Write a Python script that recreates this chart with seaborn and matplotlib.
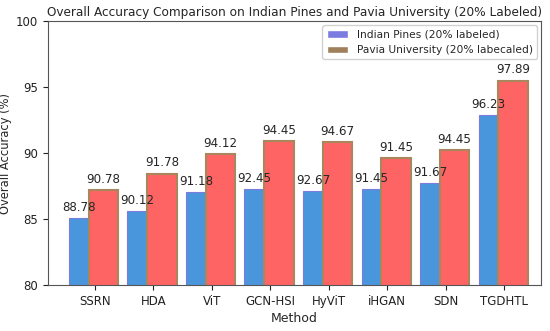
import pandas as pd
import numpy as np
import matplotlib

matplotlib.use("Agg")
import matplotlib.pyplot as plt
import seaborn as sns
from matplotlib.patches import Patch

sns.set_theme(style="ticks")
plt.rcParams["font.family"] = ["DejaVu Sans"]

# data
methods = ["SSRN", "HDA", "ViT", "GCN-HSI", "HyViT", "iHGAN", "SDN", "TGDHTL"]
# bar heights as drawn
indian_bar = [85.1, 85.6, 87.05, 87.25, 87.1, 87.25, 87.7, 92.85]
pavia_bar = [87.2, 88.45, 89.9, 90.9, 90.85, 89.6, 90.25, 95.5]
# numbers printed above the bars
indian_text = [88.78, 90.12, 91.18, 92.45, 92.67, 91.45, 91.67, 96.23]
pavia_text = [90.78, 91.78, 94.12, 94.45, 94.67, 91.45, 94.45, 97.89]
series = ["Indian Pines (20% labeled)", "Pavia University (20% labecaled)"]

df = pd.DataFrame(
    {
        "Method": methods * 2,
        "acc": indian_bar + pavia_bar,
        "label": indian_text + pavia_text,
        "dataset": [series[0]] * len(methods) + [series[1]] * len(methods),
    }
)

fig, ax = plt.subplots(figsize=(5.5, 3.31), dpi=100)
fig.subplots_adjust(left=0.087, right=0.984, bottom=0.139, top=0.936)

sns.barplot(
    data=df,
    x="Method",
    y="acc",
    hue="dataset",
    palette=["#4A96DD", "#FF6464"],
    saturation=1,
    width=0.84,
    legend=False,
    ax=ax,
)

# blue bars narrower on the left, red wider on the right
n = len(methods)
for i, p in enumerate(ax.patches[: 2 * n]):
    xi = i % n
    if i < n:
        p.set_x(xi - 0.44)
        p.set_width(0.34)
        p.set_edgecolor("#7B7BDB")
        p.set_linewidth(0.8)
    else:
        p.set_x(xi - 0.10)
        p.set_width(0.50)
        p.set_edgecolor("#A8865E")
        p.set_linewidth(1.5)

# value labels
for i in range(n):
    ax.annotate(
        f"{indian_text[i]:.2f}",
        (i - 0.27, indian_bar[i]),
        xytext=(0, 3),
        textcoords="offset points",
        ha="center",
        va="bottom",
        fontsize=8.6,
    )
    ax.annotate(
        f"{pavia_text[i]:.2f}",
        (i + 0.15, pavia_bar[i]),
        xytext=(0, 3),
        textcoords="offset points",
        ha="center",
        va="bottom",
        fontsize=8.6,
    )

ax.set_ylim(80, 100)
ax.set_xlim(-0.80, 7.63)
ax.set_yticks([80, 85, 90, 95, 100])
ax.tick_params(axis="both", labelsize=8.5, length=3.5, width=0.8, colors="#222222")
for s in ax.spines.values():
    s.set_color("#555555")
    s.set_linewidth(0.8)

ax.set_xlabel("Method", fontsize=9, labelpad=3)
ax.set_ylabel("Overall Accuracy (%)", fontsize=8.3, labelpad=3)
ax.set_title(
    "Overall Accuracy Comparison on Indian Pines and Pavia University (20% Labeled)",
    fontsize=8.7,
    pad=4,
)

handles = [
    Patch(facecolor="#7B7BE0", label=series[0]),
    Patch(facecolor="#A0805A", label=series[1]),
]
ax.legend(handles=handles, loc="upper right", fontsize=7.7, framealpha=0.9,
          borderaxespad=0.4)

fig.savefig("out.png", dpi=100)
